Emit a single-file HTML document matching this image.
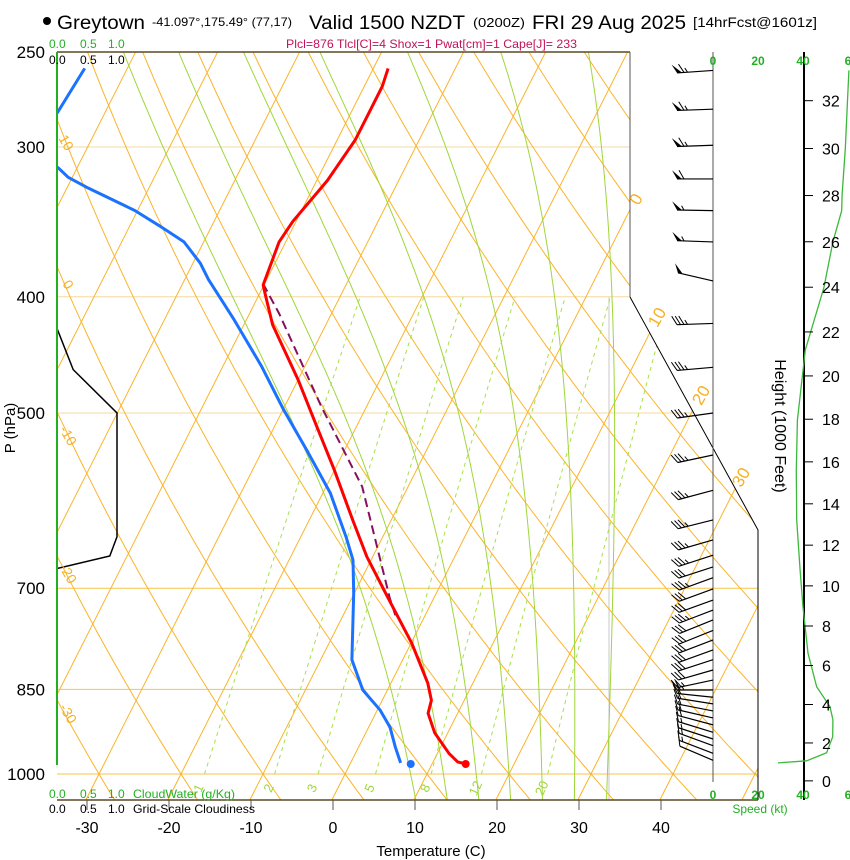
<!DOCTYPE html>
<html><head><meta charset="utf-8">
<style>
html,body{margin:0;padding:0;background:#fff;}
svg{display:block;font-family:"Liberation Sans",Arial,sans-serif;}
</style></head>
<body>
<svg id="chart" xmlns="http://www.w3.org/2000/svg" width="850" height="860" viewBox="0 0 850 860">
  <defs>
    <clipPath id="plotClip"><polygon points="57,52 630,52 630,297 758,530 758,800 57,800"/></clipPath>
    <clipPath id="lowClip"><rect x="57" y="52" width="701" height="748"/></clipPath>
  </defs>
  <g id="bg" clip-path="url(#plotClip)"></g>
  <g id="marks" clip-path="url(#lowClip)"></g>
  <g id="frame"></g>
  <g id="barbs"></g>
  <g id="labels"></g>
</svg>
<script>
// ---------- data ----------
const tempP = [258,267,281,296,320,346,360,391,397,422,469,510,558,614,659,713,778,840,868,890,924,961,977,981];
const tempT = [-38.2,-37.8,-37.8,-37.8,-38.7,-40.4,-40.8,-40.1,-39.4,-36.5,-30.0,-25.2,-20.0,-14.7,-10.7,-5.6,0.1,4.5,6.0,6.4,8.4,11.4,13.0,14.1];
const dewP = [258,281,296,312,318,324,339,349,360,375,387,418,457,497,537,583,634,663,706,803,851,884,914,950,979];
const dewT = [-75.2,-75.8,-84,-72.4,-70.5,-67.7,-60.3,-56.4,-52.4,-49.1,-47.1,-41.5,-35.3,-29.9,-24.6,-19.1,-14.5,-12.2,-10.1,-6.2,-3.0,0.3,2.6,4.5,6.1];
const sfcP = [981];
const sfcT = [14.1];
const sfcTd = [7.4];
const parcelP = [390,413,494,576,713,739];
const parcelT = [-40.2,-36.4,-25.5,-15.6,-5.4,-3.5];
const cloudP = [425,460,500,634,658,674];
const cloudF = [0,0.27,1,1,0.88,0];
const spdProfP = [259,301,329,339,360,393,443,507,558,614,676,726,793,846,879,901,931,960,975,979];
const spdProfV = [60.4,58.8,57.4,57.2,53.3,49.3,41,37.5,37,37.2,38.7,40,42.2,46.1,52,53.3,53.2,50.5,41.6,28.9];
const barbP = [259,279,299,319,339,360,388,421,458,500,542,580,614,638,657,672,686,701,716,730,744,759,773,788,803,819,835,851,863,874,886,898,910,923,935,947,961,974];
const barbDir = [266,268,268,270,271,272,283,268,265,262,258,255,256,254,252,252,250,250,250,249,248,248,249,250,252,254,258,270,276,279,281,283,285,287,288,290,291,293];
const barbSpd = [65,65,65,60,55,55,50,35,35,35,35,35,35,35,35,30,35,30,30,35,30,30,30,30,30,30,25,25,20,20,20,20,20,15,15,15,15,10];
const pLevels = [250,300,400,500,700,850,1000];
const tempTicks = [-30,-20,-10,0,10,20,30,40];
const isoVals = [-130,-120,-110,-100,-90,-80,-70,-60,-50,-40,-30,-20,-10,0,10,20,30,40,50];
const dryVals = [-40,-30,-20,-10,0,10,20,30,40,50,60,70,80,90,100,110,120,130,140,150,160,170,180];
const mixVals = [1,2,3,5,8,12,20];
const moistVals = [8,12,16,20,24,28,32];
const heightTicks = [0,2,4,6,8,10,12,14,16,18,20,22,24,26,28,30,32];
const speedTicks = [0,20,40,60];

// ---------- axes ----------
const Y = p => 774 - 520.8*Math.log(1000/p);
const X = (T,p) => 345 + 8.2*T + 0.505*(774 - Y(p));
const SX = v => 713 + 2.25*v;
const CX = f => 57 + 60*f;
const NS = "http://www.w3.org/2000/svg";
function el(tag, attrs, parent){const e=document.createElementNS(NS,tag);for(const k in attrs)e.setAttribute(k,attrs[k]);parent.appendChild(e);return e;}
function txt(s, attrs, parent){const e=el('text',attrs,parent);e.textContent=s;return e;}
const bg=document.getElementById('bg'), marks=document.getElementById('marks'), frame=document.getElementById('frame'), barbs=document.getElementById('barbs'), labels=document.getElementById('labels');
const pts = a => a.map(q=>q[0].toFixed(1)+','+q[1].toFixed(1)).join(' ');

// isobars
pLevels.forEach(p=>{
  const strong = p>=700;
  const l = el('line',{x1:57,x2:758,y1:Y(p),y2:Y(p),stroke:strong?'#f7c64a':'#f5d9a0','stroke-width':1},bg);
  
  
});
const gl = el('line',{x1:609,x2:609,y1:297,y2:800,stroke:'#c8c8c8','stroke-width':1},bg);


// isotherms
isoVals.forEach(T=>{
  const l = el('line',{x1:X(T,1051),y1:Y(1051),x2:X(T,240),y2:Y(240),stroke:'#fbb42a','stroke-width':1},bg);
  
  
});
// dry adiabats
dryVals.forEach(th=>{
  const a=[];for(let p=1060;p>=240;p-=10){const T=(th+273.15)*Math.pow(p/1000,0.2857)-273.15;a.push([X(T,p),Y(p)]);}
  const l = el('polyline',{points:pts(a),fill:'none',stroke:'#fbb42a','stroke-width':1},bg);
  
  
});
// moist adiabats
function dTdp(T,p){const es=6.112*Math.exp(17.67*(T-273.15)/(T-29.65));const rs=0.622*es/(p-es);const Lv=2.501e6,Rd=287,cp=1005;return (Rd*T+Lv*rs)/(p*(cp+Lv*Lv*rs*0.622/(Rd*T*T)));}
moistVals.forEach(t0=>{
  const a=[];let T=t0+273.15;
  const down=[];let Td=T;for(let p=1000;p<1060;p+=2){down.push([X(Td-273.15,p),Y(p)]);Td+=dTdp(Td,p)*2;}
  for(let p=1000;p>=240;p-=2){a.push([X(T-273.15,p),Y(p)]);T-=dTdp(T,p)*2;}
  const all=down.reverse().concat(a);
  const l = el('polyline',{points:pts(all),fill:'none',stroke:'#9fd63a','stroke-width':1},bg);
  
  
});
// mixing ratio
mixVals.forEach(w=>{
  const a=[];for(let p=1000;p>=400;p-=10){const e=w*p/(622+w);const L=Math.log(e/6.112);const Td=243.5*L/(17.67-L);a.push([X(Td,p),Y(p)]);}
  const l = el('polyline',{points:pts(a),fill:'none',stroke:'#a8e048','stroke-width':1,'stroke-dasharray':'4,4'},bg);
  
  
  const e=w*1000/(622+w);const L=Math.log(e/6.112);const Td=243.5*L/(17.67-L);
  const lx=X(Td,1000)-2, ly=790;
  const t=txt(String(w),{x:lx,y:ly,'font-size':13,fill:'#9fd63a',transform:`rotate(-65 ${lx} ${ly})`,'text-anchor':'middle'},labels);
  
  
});

// ---------- sounding ----------
const cl = el('polyline',{points:pts(cloudP.map((p,i)=>[CX(cloudF[i]),Y(p)])),fill:'none',stroke:'#000','stroke-width':1.5},marks);


const dl = el('polyline',{points:pts(dewP.map((p,i)=>[X(dewT[i],p),Y(p)])),fill:'none',stroke:'#1a72ff','stroke-width':3,'stroke-linejoin':'round'},marks);


const pl = el('polyline',{points:pts(parcelP.map((p,i)=>[X(parcelT[i],p),Y(p)])),fill:'none',stroke:'#86105e','stroke-width':2,'stroke-dasharray':'9,5'},marks);


const tl = el('polyline',{points:pts(tempP.map((p,i)=>[X(tempT[i],p),Y(p)])),fill:'none',stroke:'#f00','stroke-width':3,'stroke-linejoin':'round'},marks);


const d1 = el('circle',{cx:X(sfcT[0],sfcP[0]),cy:Y(sfcP[0]),r:4,fill:'#f00'},marks);


const d2 = el('circle',{cx:X(sfcTd[0],sfcP[0]),cy:Y(sfcP[0]),r:4,fill:'#1a72ff'},marks);



// ---------- frame ----------
el('line',{x1:57,y1:52,x2:630,y2:52,stroke:'#5a4a22','stroke-width':1.5},frame);
el('line',{x1:630,y1:52,x2:630,y2:297,stroke:'#555','stroke-width':1},frame);
el('polyline',{points:'630,297 758,530 758,800',fill:'none',stroke:'#000','stroke-width':1},frame);
el('line',{x1:57,y1:800,x2:758,y2:800,stroke:'#5a4a22','stroke-width':1.5},frame);
el('line',{x1:57,y1:52,x2:57,y2:765,stroke:'#22b022','stroke-width':2},frame);
el('line',{x1:713,y1:52,x2:713,y2:782,stroke:'#555','stroke-width':1},frame);
el('line',{x1:804,y1:52,x2:804,y2:800,stroke:'#000','stroke-width':2},frame);
tempTicks.forEach(T=>{el('line',{x1:333+8.2*T,x2:333+8.2*T,y1:800,y2:810,stroke:'#555','stroke-width':1},frame);});

// speed profile
const sp = el('polyline',{points:pts(spdProfP.map((p,i)=>[SX(spdProfV[i]),Y(p)])),fill:'none',stroke:'#3cb83c','stroke-width':1.3},frame);



// height axis
heightTicks.forEach(h=>{
  const m=h*304.8;const p=1013.25*Math.pow(1-2.25577e-5*m,5.2559);const y=Y(p);
  el('line',{x1:804,x2:813,y1:y,y2:y,stroke:'#000','stroke-width':1},frame);
  if(y>60){const t=txt(String(h),{x:822,y:y+6,'font-size':16,fill:'#000'},labels);
  
  }
});

// ---------- barbs ----------
barbP.forEach((p,i)=>{
  const y=Y(p), x0=713, r=barbDir[i]*Math.PI/180;
  const ux=Math.sin(r), uy=-Math.cos(r), L=36;
  const c=Math.cos(Math.PI/3), s=Math.sin(Math.PI/3);
  const fx=ux*c-uy*s, fy=ux*s+uy*c;
  const g=el('g',{},barbs);
  
  
  const ex=x0+ux*L, ey=y+uy*L;
  el('line',{x1:x0,y1:y,x2:ex,y2:ey,stroke:'#000','stroke-width':1.2},g);
  let v=Math.round(barbSpd[i]/5)*5, pos=0;
  while(v>=50){const ax=ex-ux*pos, ay=ey-uy*pos;const bx=ax-ux*5, by=ay-uy*5;
    el('polygon',{points:`${ax},${ay} ${ax+fx*10},${ay+fy*10} ${bx},${by}`,fill:'#000'},g);pos+=7;v-=50;}
  while(v>=10){const ax=ex-ux*pos, ay=ey-uy*pos;el('line',{x1:ax,y1:ay,x2:ax+fx*10,y2:ay+fy*10,stroke:'#000','stroke-width':1},g);pos+=3.5;v-=10;}
  if(v>=5){if(pos===0)pos=3.5;const ax=ex-ux*pos, ay=ey-uy*pos;el('line',{x1:ax,y1:ay,x2:ax+fx*5,y2:ay+fy*5,stroke:'#000','stroke-width':1},g);}
});

// ---------- labels ----------
function T(s,a,name){const t=txt(s,a,labels);return t;}
el('circle',{cx:47,cy:21,r:4,fill:'#000'},labels);
T('Greytown',{x:57,y:29,'font-size':19,textLength:88,lengthAdjust:'spacingAndGlyphs'},'station-name');
T('-41.097°,175.49° (77,17)',{x:152,y:26,'font-size':12,textLength:140,lengthAdjust:'spacingAndGlyphs'},'station-coords');
T('Valid 1500 NZDT',{x:309,y:29,'font-size':19,textLength:156,lengthAdjust:'spacingAndGlyphs'},'valid-time');
T('(0200Z)',{x:473,y:27,'font-size':13,textLength:52,lengthAdjust:'spacingAndGlyphs'},'utc-time');
T('FRI 29 Aug 2025',{x:532,y:29,'font-size':19,textLength:154,lengthAdjust:'spacingAndGlyphs'},'date');
T('[14hrFcst@1601z]',{x:693,y:27,'font-size':14,textLength:124,lengthAdjust:'spacingAndGlyphs'},'forecast-info');
T('Plcl=876 Tlcl[C]=4 Shox=1 Pwat[cm]=1 Cape[J]= 233',{x:286,y:48,'font-size':12,fill:'#c0145a',textLength:291,lengthAdjust:'spacingAndGlyphs'},'stability-indices');
[['0.0',49],['0.5',80],['1.0',108]].forEach(a=>{T(a[0],{x:a[1],y:48,'font-size':12,fill:'#22b022'},'cloudwater-scale-top');T(a[0],{x:a[1],y:64,'font-size':12,fill:'#000'},'cloudiness-scale-top');});
[['0.0',49],['0.5',80],['1.0',108]].forEach(a=>{T(a[0],{x:a[1],y:798,'font-size':12,fill:'#22b022'},'cloudwater-scale-bottom');T(a[0],{x:a[1],y:813,'font-size':12,fill:'#000'},'cloudiness-scale-bottom');});
T('CloudWater (g/Kg)',{x:133,y:798,'font-size':12,fill:'#22b022',textLength:102,lengthAdjust:'spacingAndGlyphs'},'cloudwater-label');
T('Grid-Scale Cloudiness',{x:133,y:813,'font-size':12,fill:'#000',textLength:122,lengthAdjust:'spacingAndGlyphs'},'cloudiness-label');
pLevels.forEach(p=>{T(String(p),{x:45,y:Y(p)+6,'font-size':17,'text-anchor':'end'},'pressure-tick-label');});
T('P (hPa)',{x:15,y:428,'font-size':15,'text-anchor':'middle',transform:'rotate(-90 15 428)'},'y-axis-title');
tempTicks.forEach(t=>{T(String(t),{x:333+8.2*t,y:833,'font-size':16,'text-anchor':'middle'},'temperature-tick-label');});
T('Temperature (C)',{x:431,y:856,'font-size':15,'text-anchor':'middle'},'x-axis-title');
[['10',62,145],['0',64,287],['-10',64,438],['-20',64,576],['-30',64,716]].forEach(a=>{T(a[0],{x:a[1],y:a[2],'font-size':14,fill:'#f5b020','text-anchor':'middle',transform:`rotate(60 ${a[1]} ${a[2]})`},'dry-adiabat-label');});
[['0',641,202],['10',662,320],['20',706,398],['30',746,480]].forEach(a=>{T(a[0],{x:a[1],y:a[2],'font-size':17,fill:'#f5b020','text-anchor':'middle',transform:`rotate(-60 ${a[1]} ${a[2]})`},'isotherm-label');});
speedTicks.forEach(v=>{const lab=v===60?'6':String(v);T(lab,{x:SX(v),y:65,'font-size':12,fill:'#22b022','text-anchor':'middle','font-weight':'bold'},'speed-tick-top');T(lab,{x:SX(v),y:799,'font-size':12,fill:'#22b022','text-anchor':'middle','font-weight':'bold'},'speed-tick-bottom');});
T('Speed (kt)',{x:760,y:813,'font-size':12,fill:'#22b022','text-anchor':'middle'},'speed-axis-title');
T('Height (1000 Feet)',{x:775,y:426,'font-size':16,'text-anchor':'middle',transform:'rotate(90 775 426)'},'height-axis-title');
</script>
</body></html>
